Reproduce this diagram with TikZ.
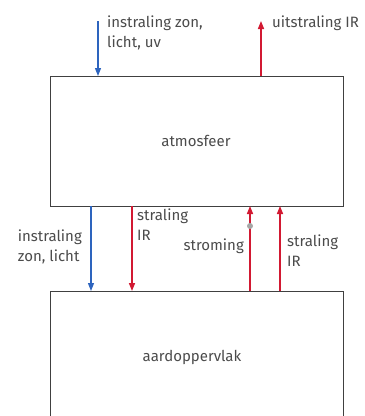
\documentclass[tikz,border=0pt]{standalone}
\usepackage{fontspec}
\setmainfont{Fira Sans}
\usetikzlibrary{arrows.meta}
\definecolor{myblue}{RGB}{45,100,190}
\definecolor{myred}{RGB}{210,25,50}
\definecolor{txt}{RGB}{75,75,75}
\begin{document}
\begin{tikzpicture}[x=1pt,y=-1pt,
  box/.style={draw=black!75,line width=1pt},
  lbl/.style={text=txt,font=\fontsize{15}{20}\selectfont,align=left,inner sep=0pt},
  bl/.style={draw=myblue,line width=1.3pt,-{Triangle[width=6pt,length=8pt]}},
  rd/.style={draw=myred,line width=1.5pt,-{Triangle[width=6pt,length=8pt]}}]
\useasboundingbox (0,0) rectangle (365,416);
\begin{scope}
\clip (0,0) rectangle (365,416);
\draw[box] (50,76) rectangle (343,206);
\draw[box] (50,291) rectangle (343,430);
\end{scope}
\node[lbl] (atm) at (196,141) {atmosfeer};
\node[lbl] (aard) at (192,357) {aardoppervlak};
% top arrows
\coordinate (b0) at (98,21);
\coordinate (b1) at (98,76);
\draw[bl] (b0) -- (b1);
\coordinate (r0) at (261,76);
\coordinate (r1) at (261,21);
\draw[rd] (r0) -- (r1);
\node[lbl,anchor=north west] (t1) at (107,16) {instraling zon,\\licht, uv};
\node[lbl,anchor=north west] (t2) at (272,16) {uitstraling IR};
% middle arrows
\coordinate (m1a) at (91,206); \coordinate (m1b) at (91,291);
\draw[bl] (m1a) -- (m1b);
\coordinate (m2a) at (132,206); \coordinate (m2b) at (132,291);
\draw[rd] (m2a) -- (m2b);
\coordinate (m3a) at (250,291); \coordinate (m3b) at (250,206);
\draw[rd] (m3a) -- (m3b);
\coordinate (m4a) at (280,291); \coordinate (m4b) at (280,206);
\draw[rd] (m4a) -- (m4b);
\fill[gray!70] (250,226) circle (3pt);
\node[lbl,anchor=north west] (s1) at (137,209) {straling\\IR};
\node[lbl,anchor=north east] (s2) at (82,230) {instraling\\zon, licht};
\node[lbl,anchor=east] (s3) at (244,246) {stroming};
\node[lbl,anchor=north west] (s4) at (287,235) {straling\\IR};
\end{tikzpicture}
\end{document}
